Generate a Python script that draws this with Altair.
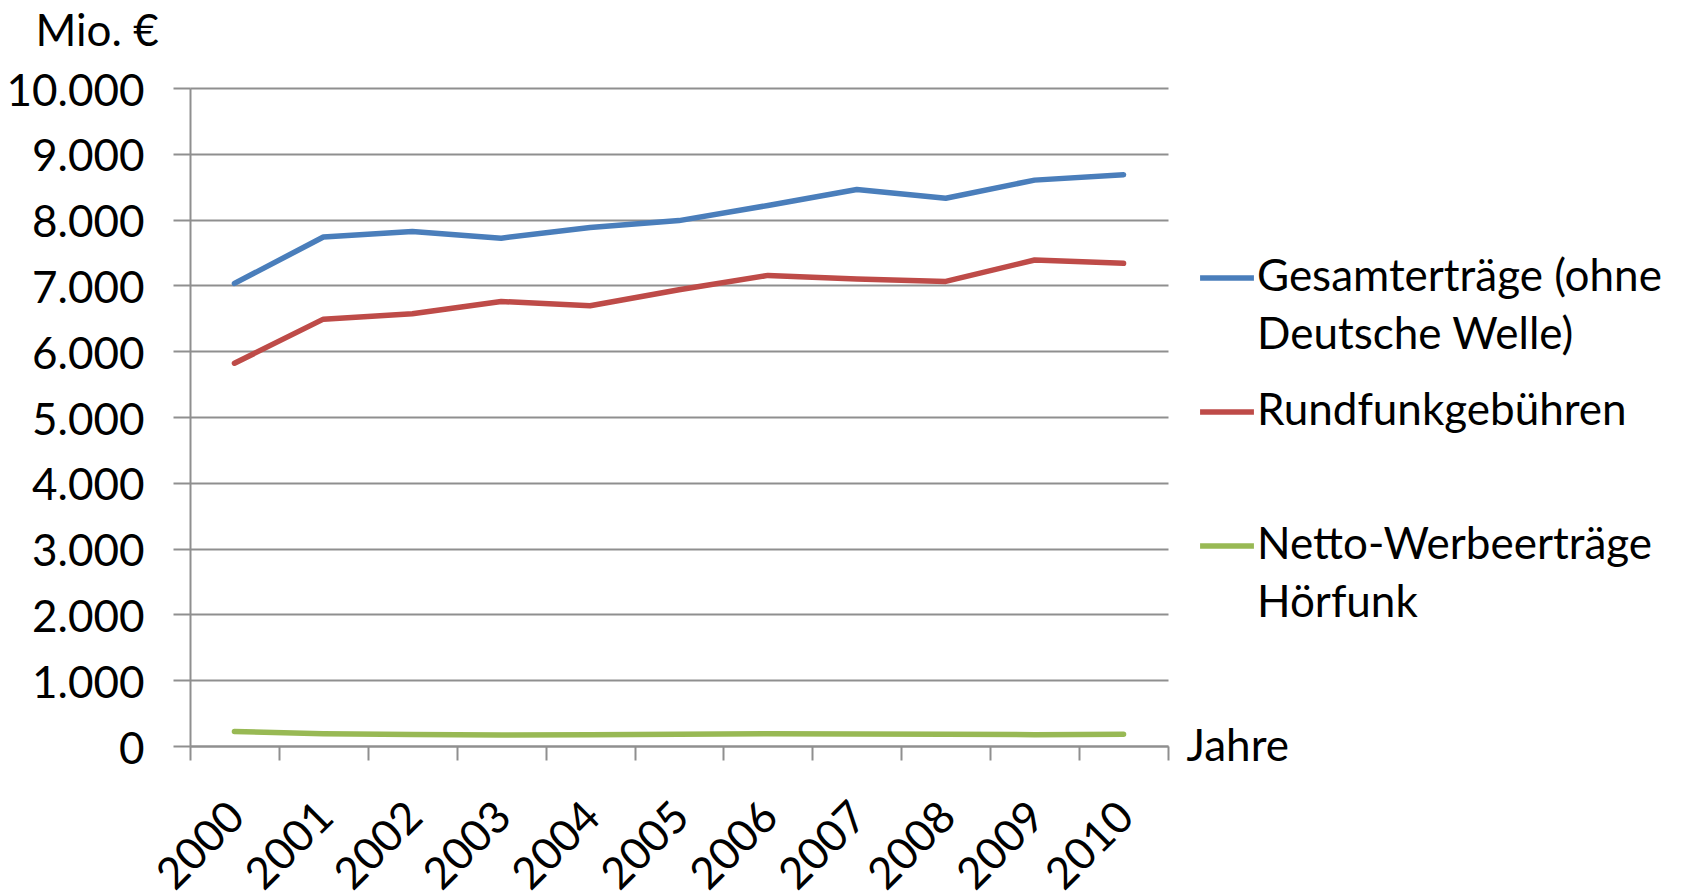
import altair as alt
import pandas as pd

years = ["2000", "2001", "2002", "2003", "2004", "2005", "2006", "2007", "2008", "2009", "2010"]
series = ["Gesamterträge (ohne Deutsche Welle)", "Rundfunkgebühren", "Netto-Werbeerträge Hörfunk"]
legend_lines = [["Gesamterträge (ohne", "Deutsche Welle)"], ["Rundfunkgebühren", ""], ["Netto-Werbeerträge", "Hörfunk"]]
gesamt = [7030, 7735, 7820, 7718, 7880, 7985, 8215, 8457, 8325, 8600, 8682]
gebuehren = [5817, 6487, 6569, 6756, 6690, 6934, 7152, 7096, 7061, 7386, 7335]
werbung = [220, 185, 175, 168, 170, 180, 185, 182, 178, 172, 180]
colors = ["#4A7EBB", "#BE4B48", "#98B954"]
y_ticks = [0, 1000, 2000, 3000, 4000, 5000, 6000, 7000, 8000, 9000, 10000]

rows = []
for name, vals in zip(series, [gesamt, gebuehren, werbung]):
    for yr, v in zip(years, vals):
        rows.append({"Jahr": yr, "Reihe": name, "Wert": v})
df = pd.DataFrame(rows)

label_expr = ""
for name, lines in zip(series[:-1], legend_lines[:-1]):
    label_expr += f"datum.label == '{name}' ? ['{lines[0]}', '{lines[1]}'] : "
label_expr += f"['{legend_lines[-1][0]}', '{legend_lines[-1][1]}']"

FONT = "Lato"
FS = 44
GRID = "#8f8f8f"

chart = alt.Chart(df).mark_line(strokeWidth=5.5, strokeCap="round", strokeJoin="round").encode(
    x=alt.X("Jahr:O", sort=years,
            scale=alt.Scale(type="band", paddingInner=0, paddingOuter=0),
            axis=alt.Axis(title="Jahre", titleX=996, titleY=14, titleAngle=0,
                          titleAlign="left", titleBaseline="alphabetic",
                          labelAngle=-45, labelAlign="right", labelBaseline="middle",
                          labelPadding=50, labelOffset=3, tickSize=14, tickBand="extent", grid=False)),
    y=alt.Y("Wert:Q", scale=alt.Scale(domain=[0, 10000], nice=False),
            axis=alt.Axis(title="Mio. €", values=y_ticks, titleX=-155, titleY=-43, titleAngle=0,
                          titleAlign="left", titleBaseline="alphabetic",
                          labelExpr="replace(format(datum.value, ',d'), ',', '.')",
                          labelPadding=29, labelOffset=4, tickSize=17, grid=True)),
    color=alt.Color("Reihe:N", scale=alt.Scale(domain=series, range=colors),
                    legend=alt.Legend(title=None, orient="none", legendX=1007, legendY=160,
                                      symbolType="stroke", symbolSize=2900, symbolStrokeWidth=5.5,
                                      labelExpr=label_expr, labelLimit=0, labelOffset=0,
                                      gridAlign="all", rowPadding=24, padding=0)),
).properties(
    width=978, height=658,
    autosize=alt.AutoSizeParams(type="none"),
    padding={"left": 190, "top": 88, "right": 523, "bottom": 146},
    background="white",
).configure(
    style={"guide-label": {"lineHeight": 58}},
).configure_axis(
    labelFont=FONT, labelFontSize=FS, labelColor="black",
    titleFont=FONT, titleFontSize=FS, titleColor="black", titleFontWeight="normal",
    domainColor=GRID, domainWidth=2, tickColor=GRID, tickWidth=2,
    gridColor=GRID, gridWidth=2,
).configure_legend(
    labelFont=FONT, labelFontSize=FS, labelColor="black",
).configure_view(stroke=None)

chart.save("out.html", embed_options={"renderer": "svg", "actions": False})
